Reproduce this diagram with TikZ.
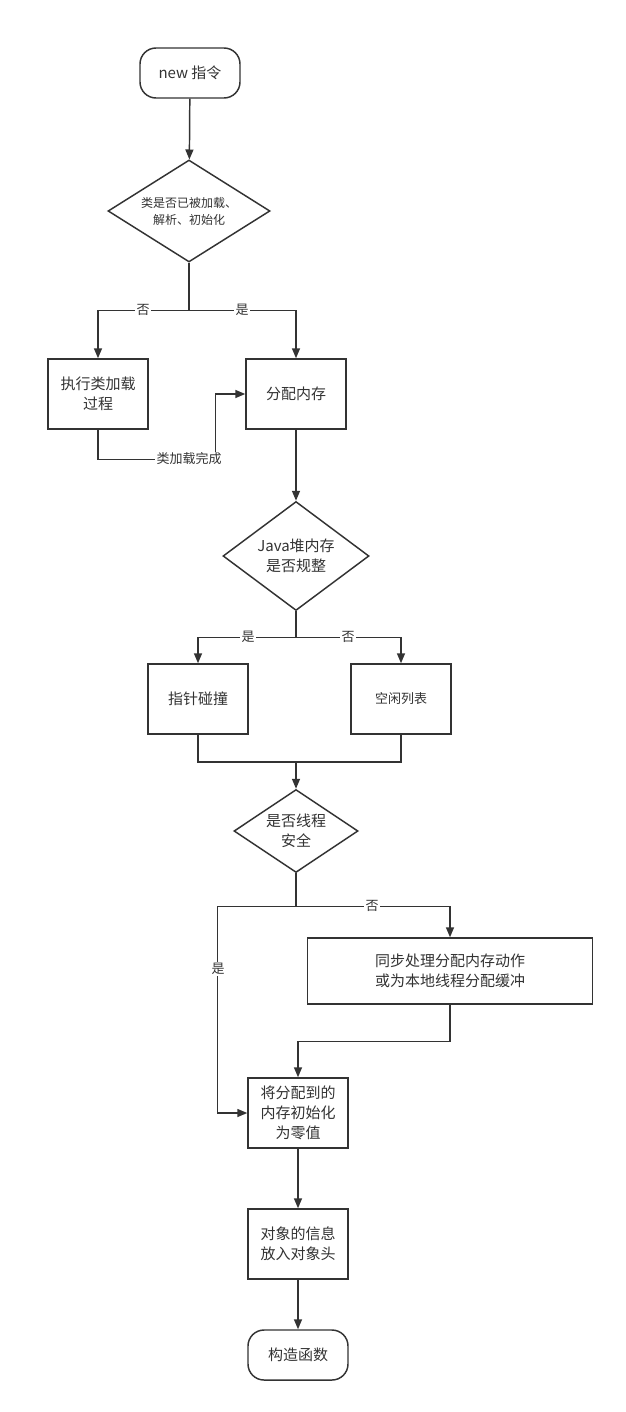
\documentclass[tikz,border=0pt]{standalone}
\usepackage{fontspec}
\setmainfont{Noto Sans CJK SC}
\usetikzlibrary{shapes.geometric,arrows.meta}
\definecolor{ln}{HTML}{333333}
\begin{document}
\begin{tikzpicture}[x=0.75pt,y=-0.75pt,line width=1.1pt,ln,
  box/.style={draw,rectangle,minimum width=75pt,minimum height=52.5pt,inner sep=0pt,align=center,font=\fontsize{11.25}{15}\selectfont},
  term/.style={box,rounded corners=12pt,minimum height=37.5pt},
  dec/.style={draw,diamond,inner sep=0pt,align=center,font=\fontsize{11.25}{15}\selectfont},
  lbl/.style={fill=white,inner sep=1pt,font=\fontsize{9.75}{12}\selectfont},
  arr/.style={-{Triangle[length=7.5pt,width=6pt]}}]
\useasboundingbox[fill=white] (0,0) rectangle (625,1412);
\node[term] (newop) at (190,73){new 指令};
\node[dec,aspect=1.59,minimum width=121.5pt,minimum height=76.5pt,font=\fontsize{9}{12.75}\selectfont] (loaded) at (189,211){类是否已被加载、\\解析、初始化};
\node[box] (doload) at (98,394){执行类加载\\过程};
\node[box] (alloc) at (296,394){分配内存};
\node[dec,aspect=1.34,minimum width=109.5pt,minimum height=81.75pt] (heapreg) at (296,556){Java堆内存\\是否规整};
\node[box] (bump) at (198,699){指针碰撞};
\node[box,font=\fontsize{9.75}{12}\selectfont] (freelist) at (401,699){空闲列表};
\coordinate (merge) at (296,762);
\node[dec,aspect=1.49,minimum width=93pt,minimum height=62.25pt] (threadsafe) at (296,831){是否线程\\安全};
\node[box,minimum width=213.75pt,minimum height=49.5pt] (sync) at (450,971){同步处理分配内存动作\\或为本地线程分配缓冲};
\node[box] (zero) at (298,1113){将分配到的\\内存初始化\\为零值};
\node[box] (header) at (298,1244){对象的信息\\放入对象头};
\node[term] (ctor) at (298,1355){构造函数};

\draw[arr](newop) -- (loaded);
\draw[arr](loaded.south) -- ++(0,48) -| (doload.north);
\draw[arr](loaded.south) -- ++(0,48) -| (alloc.north);
\draw[arr](doload.south) -- ++(0,30) -| ([xshift=-22.5pt]alloc.west) -- (alloc.west);
\draw[arr](alloc) -- (heapreg);
\draw[arr](heapreg.south) -- ++(0,26) -| (bump.north);
\draw[arr](heapreg.south) -- ++(0,26) -| (freelist.north);
\draw[](bump.south) |- (merge) -| (freelist.south);
\draw[arr](merge) -- (threadsafe);
\draw[arr](threadsafe.south) -- ++(0,33) -| ([xshift=-22.5pt]zero.west) -- (zero.west);
\draw[arr](threadsafe.south) -- ++(0,33) -| (sync.north);
\draw[arr](sync.south) -- ++(0,37) -| (zero.north);
\draw[arr](zero) -- (header);
\draw[arr](header) -- (ctor);

\node[lbl] (no1) at (143,310){否};
\node[lbl] (yes1) at (242,310){是};
\node[lbl] (done) at (189,459){类加载完成};
\node[lbl] (yes2) at (248,637){是};
\node[lbl] (no2) at (348,637){否};
\node[lbl] (no3) at (372,906){否};
\node[lbl] (yes3) at (218,969){是};
\end{tikzpicture}
\end{document}
